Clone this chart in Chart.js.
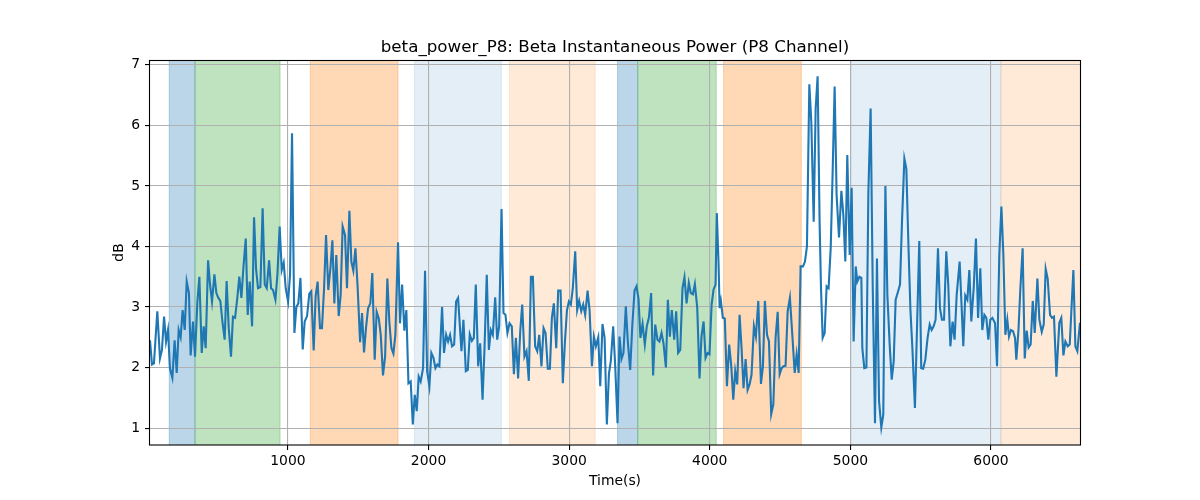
<!DOCTYPE html>
<html><head><meta charset="utf-8">
<script src="https://cdn.jsdelivr.net/npm/chart.js@4/dist/chart.umd.min.js"></script>
<style>html,body{margin:0;padding:0;background:#fff;}canvas{display:block;}</style>
</head><body>
<canvas id="c" width="1200" height="500" style="width:1200px;height:500px"></canvas>
<script>
const timeSec = [19,33,47,71,90,104,119,133,147,161,178,194,209,223,237,251,266,280,296,308,325,339,356,370,387,401,415,432,446,460,477,491,505,519,534,550,564,579,595,609,624,640,654,669,683,700,714,728,745,759,773,787,804,820,835,849,866,880,894,911,925,941,956,970,984,1001,1015,1029,1046,1060,1074,1089,1105,1119,1136,1152,1166,1183,1197,1211,1228,1242,1257,1271,1287,1302,1316,1330,1344,1361,1375,1389,1406,1420,1437,1451,1465,1480,1496,1513,1527,1541,1555,1570,1586,1600,1617,1631,1646,1660,1676,1691,1707,1721,1736,1750,1764,1783,1797,1812,1828,1842,1857,1873,1888,1902,1916,1930,1944,1961,1975,1990,2006,2020,2035,2049,2063,2077,2096,2110,2125,2139,2153,2167,2182,2196,2210,2234,2248,2265,2279,2293,2308,2322,2336,2353,2367,2384,2398,2414,2429,2443,2457,2474,2488,2502,2519,2533,2547,2561,2576,2592,2607,2621,2637,2652,2666,2682,2697,2713,2728,2742,2758,2773,2787,2803,2818,2832,2848,2863,2877,2891,2908,2922,2939,2955,2970,2984,2998,3012,3026,3043,3057,3071,3086,3100,3114,3131,3145,3162,3176,3190,3207,3221,3237,3252,3268,3283,3296,3313,3327,3344,3358,3372,3386,3403,3417,3434,3448,3465,3479,3493,3507,3522,3538,3552,3567,3583,3597,3612,3628,3642,3657,3671,3688,3702,3716,3730,3747,3761,3775,3790,3806,3820,3835,3851,3865,3880,3894,3911,3927,3941,3956,3970,3984,3998,4013,4027,4041,4050,4062,4070,4079,4093,4107,4122,4138,4153,4167,4181,4195,4212,4226,4240,4255,4269,4283,4297,4314,4328,4345,4364,4378,4392,4407,4421,4437,4452,4468,4483,4497,4511,4525,4539,4554,4570,4587,4604,4618,4632,4646,4663,4677,4691,4708,4722,4739,4753,4767,4781,4791,4803,4817,4831,4845,4860,4874,4888,4902,4919,4936,4950,4964,4978,4995,5009,5023,5038,5049,5064,5078,5085,5099,5114,5128,5144,5159,5175,5189,5204,5220,5234,5249,5263,5280,5294,5308,5322,5336,5353,5367,5384,5398,5412,5427,5441,5459,5490,5504,5518,5533,5549,5564,5578,5592,5606,5623,5637,5651,5666,5682,5696,5711,5727,5741,5756,5777,5791,5803,5817,5832,5846,5860,5877,5893,5908,5924,5938,5953,5967,5981,5995,6010,6029,6043,6059,6074,6088,6102,6116,6128,6142,6157,6171,6180,6195,6209,6225,6240,6254,6268,6282,6297,6311,6330,6344,6361,6375,6389,6403,6420,6434,6448,6465,6486,6500,6515,6529,6546,6560,6574,6586,6600,6614,6633];
const betaDb = [2.45,2.05,2.07,2.93,2.15,2.29,2.84,2.43,2.62,1.98,1.83,2.45,1.91,2.62,2.5,2.95,2.62,3.42,3.23,2.2,2.76,2.18,3.09,3.5,2.24,2.68,2.32,3.77,3.37,3.09,3.54,3.23,3.15,3.1,2.76,2.46,3.43,2.65,2.18,2.84,2.82,3.15,3.5,3.15,3.64,4.13,2.87,3.42,2.68,4.48,3.64,3.31,3.33,4.63,3.37,3.31,3.77,3.31,3.28,3.12,3.53,4.33,3.61,3.73,3.31,3.09,3.53,5.87,2.57,3.0,3.06,3.48,2.3,2.76,2.85,3.22,3.26,2.28,3.18,3.42,2.65,2.65,3.31,4.19,3.28,3.64,4.1,3.06,3.86,2.85,3.2,4.33,4.19,3.31,4.59,3.75,3.6,3.97,3.31,2.42,2.9,2.25,2.65,2.98,3.06,3.56,2.13,2.92,2.81,2.54,1.87,2.18,3.47,2.76,2.32,2.23,2.54,4.07,2.73,3.37,2.61,2.95,1.74,1.77,1.06,1.55,1.28,1.85,1.77,1.99,3.6,1.94,1.69,2.24,2.16,1.99,2.05,2.02,3.0,2.24,2.54,2.43,2.54,2.35,2.38,3.09,3.15,2.27,2.79,1.94,1.96,2.55,2.44,2.49,3.37,2.02,2.4,1.47,2.32,3.53,2.29,2.62,2.54,3.16,2.46,2.68,4.62,2.9,2.87,2.57,2.73,2.68,1.89,2.49,1.82,2.6,3.04,2.18,2.27,1.78,3.5,3.5,2.35,2.27,2.54,2.02,2.65,2.57,1.98,1.98,2.82,3.06,2.32,3.27,3.27,1.74,2.43,2.94,3.09,3.04,3.31,3.92,2.95,3.1,2.93,3.04,2.87,3.27,2.95,2.02,2.51,2.35,2.5,1.69,2.72,2.49,1.06,1.9,2.1,2.68,2.05,1.08,2.51,2.14,2.24,3.01,2.43,1.96,2.65,3.27,3.34,3.14,2.49,2.72,2.38,2.68,2.82,3.23,1.87,2.71,2.46,2.43,2.57,2.4,2.0,3.12,2.51,2.95,2.46,2.93,2.24,2.29,3.31,3.49,3.06,3.4,3.23,3.21,3.38,2.98,1.82,2.51,2.76,2.16,2.24,2.22,3.04,3.29,3.37,4.55,3.75,2.98,3.1,2.82,2.81,1.69,2.38,2.02,1.47,1.94,1.72,2.87,2.32,1.66,2.14,1.63,1.72,1.88,2.68,2.51,3.1,1.73,2.02,3.1,2.54,2.43,1.23,1.39,2.49,2.92,1.89,1.99,2.02,2.03,2.93,3.15,2.54,1.91,2.22,1.91,3.67,3.67,3.75,4.0,6.68,6.06,4.41,6.28,6.81,4.41,3.31,2.49,2.57,3.34,3.31,3.97,5.24,6.64,4.85,4.15,4.92,4.52,3.75,5.51,3.86,4.97,2.43,3.67,3.42,3.5,3.48,2.32,1.99,2.0,4.9,6.28,3.31,1.08,3.8,1.44,1.01,1.22,5.0,3.2,2.35,1.8,2.1,3.12,3.23,3.37,4.41,5.45,5.28,4.09,2.95,2.32,1.33,4.09,1.99,1.98,2.13,2.49,2.71,2.62,2.68,2.79,3.97,2.98,2.79,2.79,3.92,3.37,2.35,2.76,2.46,3.2,3.75,3.01,2.35,3.19,3.12,3.61,2.76,3.31,4.13,2.82,3.64,2.62,2.87,2.82,2.46,2.79,2.82,2.73,2.02,3.86,4.66,3.86,2.54,2.79,2.51,2.62,2.6,2.49,2.13,2.6,3.31,3.97,2.15,2.61,2.33,2.38,3.1,2.57,3.47,2.79,2.59,2.71,3.63,3.47,2.87,2.82,2.84,1.85,2.74,2.82,2.2,2.43,2.35,2.38,3.05,3.61,2.35,2.27,2.74];
const spanStart = [156, 339, 1159, 1899, 2575, 3344, 3488, 4098, 5005, 6071];
const spanEnd   = [339, 944, 1783, 2518, 3185, 3488, 4046, 4651, 6071, 6700];
const spanKind  = ['blue','green','orange','lightblue','lightorange','blue','green','orange','lightblue','lightorange'];
const xTicks = [1000, 2000, 3000, 4000, 5000, 6000];
const yTicks = [1, 2, 3, 4, 5, 6, 7];
const titleText = 'beta_power_P8: Beta Instantaneous Power (P8 Channel)';
const xLabel = 'Time(s)';
const yLabel = 'dB';

const kindColor = {
  blue: 'rgba(31,119,180,0.3)',
  green: 'rgba(44,160,44,0.3)',
  orange: 'rgba(255,127,14,0.3)',
  lightblue: 'rgba(31,119,180,0.12)',
  lightorange: 'rgba(255,127,14,0.16)'
};
const FONT = "'DejaVu Sans', 'Liberation Sans', sans-serif";

const spanPlugin = {
  id: 'spans',
  beforeDraw(chart) {
    const {ctx, chartArea: a, scales: {x}} = chart;
    ctx.save();
    ctx.beginPath();
    ctx.rect(a.left, a.top, a.right - a.left, a.bottom - a.top);
    ctx.clip();
    for (let i = 0; i < spanStart.length; i++) {
      const x0 = x.getPixelForValue(spanStart[i]);
      const x1 = x.getPixelForValue(spanEnd[i]);
      const c = kindColor[spanKind[i]];
      ctx.fillStyle = c;
      ctx.fillRect(x0, a.top, x1 - x0, a.bottom - a.top);
      ctx.strokeStyle = c;
      ctx.lineWidth = 1;
      ctx.beginPath();
      ctx.moveTo(x0, a.top); ctx.lineTo(x0, a.bottom);
      ctx.moveTo(x1, a.top); ctx.lineTo(x1, a.bottom);
      ctx.stroke();
    }
    ctx.restore();
  }
};

const framePlugin = {
  id: 'frame',
  afterDatasetsDraw(chart) {
    const {ctx, chartArea: a} = chart;
    ctx.save();
    ctx.strokeStyle = '#000';
    ctx.lineWidth = 1.1;
    ctx.strokeRect(Math.round(a.left) - 0.5, Math.round(a.top) + 0.5, Math.round(a.right - a.left) + 1, Math.round(a.bottom - a.top) - 0.5);
    ctx.restore();
  },
  afterDraw(chart) {
    const {ctx, chartArea: a} = chart;
    const cx = (a.left + a.right) / 2;
    const cy = (a.top + a.bottom) / 2;
    ctx.save();
    ctx.fillStyle = '#000';
    ctx.textAlign = 'center';
    ctx.textBaseline = 'alphabetic';
    ctx.font = '16.7px ' + FONT;
    ctx.fillText(titleText, cx, a.top - 8);
    ctx.font = '13.9px ' + FONT;
    ctx.fillText(xLabel, cx, 485);
    ctx.translate(123, cy);
    ctx.rotate(-Math.PI / 2);
    ctx.fillText(yLabel, 0, 0);
    ctx.restore();
  }
};

new Chart(document.getElementById('c'), {
  type: 'line',
  data: {
    datasets: [{
      data: timeSec.map((t, i) => ({x: t, y: betaDb[i]})),
      borderColor: '#1f77b4',
      borderWidth: 2.1,
      pointRadius: 0,
      tension: 0,
      fill: false
    }]
  },
  options: {
    responsive: false,
    animation: false,
    devicePixelRatio: 1,
    events: [],
    layout: {padding: {left: 0, right: 120, top: 60, bottom: 0}, autoPadding: false},
    plugins: {legend: {display: false}, tooltip: {enabled: false}, title: {display: false}},
    scales: {
      x: {
        type: 'linear',
        min: timeSec[0],
        max: timeSec[timeSec.length - 1],
        afterBuildTicks: s => { s.ticks = xTicks.map(v => ({value: v})); },
        afterFit: s => { s.height = 55; },
        grid: {color: '#b0b0b0', lineWidth: 1.1, tickColor: '#000', tickLength: 5, drawTicks: true},
        border: {display: false},
        ticks: {color: '#000', font: {family: FONT, size: 13.9}, padding: 3, maxRotation: 0, autoSkip: false, callback: v => String(v)}
      },
      y: {
        min: 0.72,
        max: 7.08,
        afterBuildTicks: s => { s.ticks = yTicks.map(v => ({value: v})); },
        afterFit: s => { s.width = 150; },
        grid: {color: '#b0b0b0', lineWidth: 1.1, tickColor: '#000', tickLength: 5, drawTicks: true},
        border: {display: false},
        ticks: {color: '#000', font: {family: FONT, size: 13.9}, padding: 5, autoSkip: false, callback: v => String(v)}
      }
    }
  },
  plugins: [spanPlugin, framePlugin]
});
</script>
</body></html>
